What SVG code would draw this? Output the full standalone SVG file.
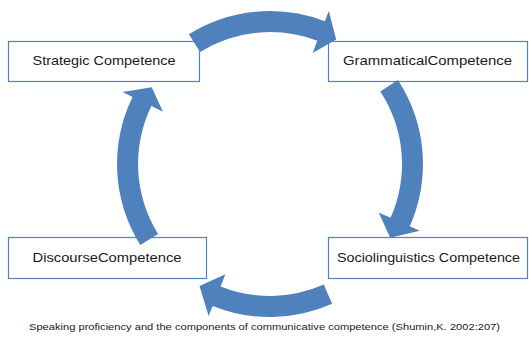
<svg xmlns="http://www.w3.org/2000/svg" width="529" height="339" viewBox="0 0 529 339">
<style>
.box{fill:#fff;stroke:#4F81BD;stroke-width:1.2}
.lbl{font-family:"Liberation Sans",Arial,sans-serif;font-size:13px;fill:#1a1a1a;text-anchor:middle}
.arr{fill:#4F81BD}
.cap{font-family:"Liberation Sans",Arial,sans-serif;font-size:9px;fill:#1a1a1a}
</style>
<rect width="529" height="339" fill="#fff"/>
<g id="strategic"><rect class="box" x="8.5" y="41.5" width="191" height="40"/><text class="lbl" x="104" y="65" textLength="143" lengthAdjust="spacingAndGlyphs">Strategic Competence</text></g>
<g id="grammatical"><rect class="box" x="328.5" y="41.5" width="199" height="40"/><text class="lbl" x="427.5" y="65" textLength="169" lengthAdjust="spacingAndGlyphs">GrammaticalCompetence</text></g>
<g id="discourse"><rect class="box" x="8.5" y="237.5" width="198" height="41"/><text class="lbl" x="107" y="262" textLength="149" lengthAdjust="spacingAndGlyphs">DiscourseCompetence</text></g>
<g id="sociolinguistics"><rect class="box" x="328.5" y="237.5" width="199" height="41"/><text class="lbl" x="428.5" y="262" textLength="183" lengthAdjust="spacingAndGlyphs">Sociolinguistics Competence</text></g>
<g id="connectors">
<path class="arr" d="M188.9,34.3 A153,153 0 0 1 324.8,21.2 L328.8,10.9 L336.2,39.5 L312.6,52.9 L317.3,40.8 A132,132 0 0 0 200.1,52.1 Z"/>
<path class="arr" d="M397.9,80 A153,153 0 0 1 409.8,226.2 L419.8,230.7 L390.2,237.7 L378.7,212.4 L390.6,217.7 A132,132 0 0 0 380.3,91.5 Z"/>
<path class="arr" d="M332.2,303.8 A153,153 0 0 1 212.7,305.9 L208.6,316.1 L199.5,286.1 L225.4,274.3 L220.6,286.4 A132,132 0 0 0 323.7,284.6 Z"/>
<path class="arr" d="M140.3,245.1 A153,153 0 0 1 132.5,96.9 L122.6,92.1 L151.7,87.2 L163,111.8 L151.4,106.1 A132,132 0 0 0 158.1,233.9 Z"/>
</g>
<text class="cap" x="29" y="330" textLength="471" lengthAdjust="spacingAndGlyphs">Speaking proficiency and the components of communicative competence (Shumin,K. 2002:207)</text>
</svg>
